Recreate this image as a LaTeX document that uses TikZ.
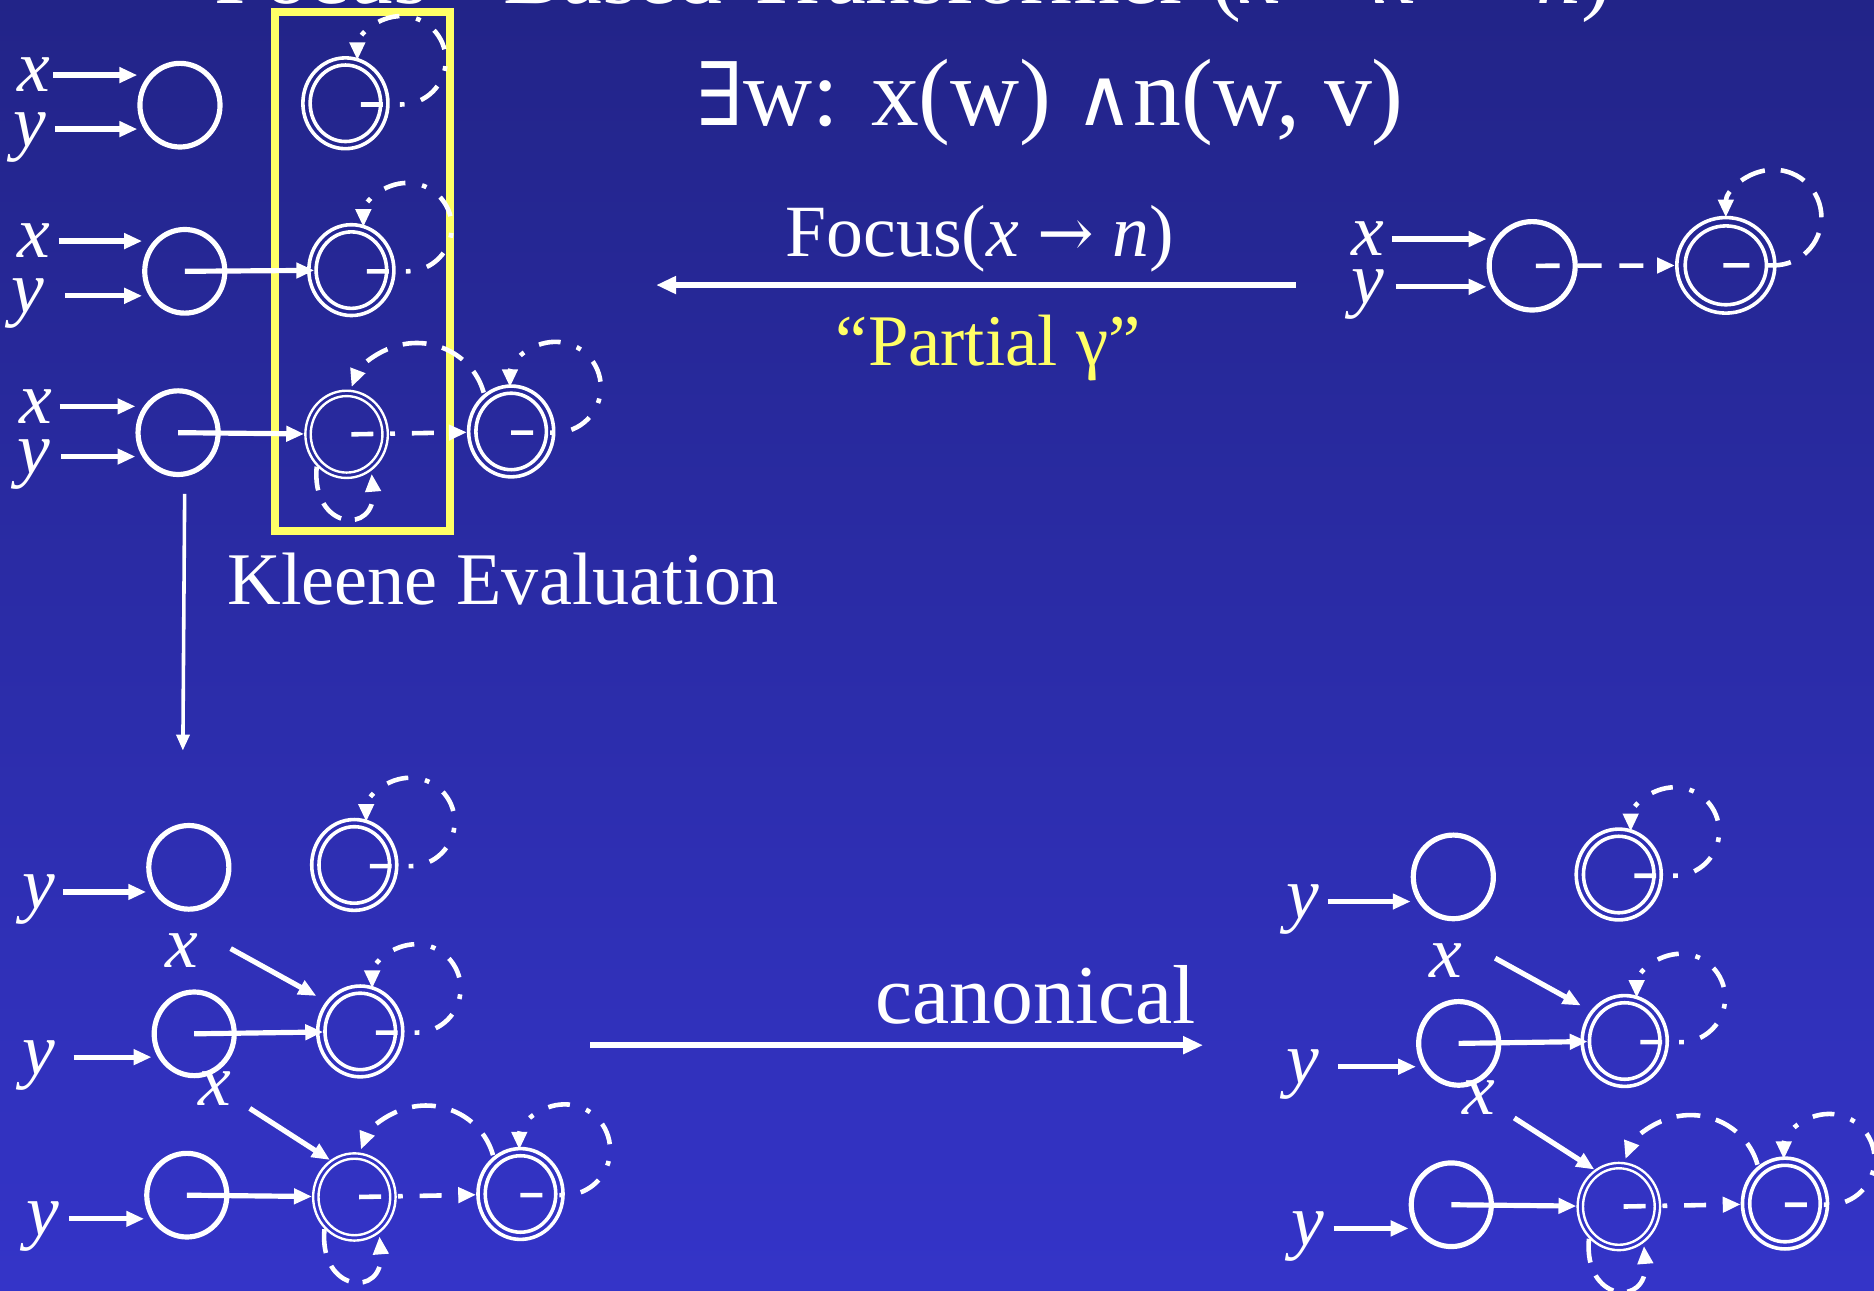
\documentclass[tikz,border=0pt]{standalone}
\usepackage{fontspec}
\setmainfont{Liberation Serif}
\newfontfamily\symfnt{DejaVu Serif}
\usetikzlibrary{arrows.meta,shapes.geometric,calc}
\definecolor{bgtop}{RGB}{34,36,136}
\definecolor{bgbot}{RGB}{52,52,200}
\definecolor{hlyellow}{RGB}{255,255,102}
\tikzset{
  stnode/.style={ellipse,draw=white,line width=2.6pt,minimum width=40.2pt,minimum height=42pt,inner sep=0pt},
  dcout/.style={ellipse,draw=white,line width=1.8pt,minimum width=42.7pt,minimum height=45.6pt,inner sep=0pt},
  dcin/.style={ellipse,draw=white,line width=1.8pt,minimum width=35.4pt,minimum height=38.4pt,inner sep=0pt},
  tcout/.style={ellipse,draw=white,line width=1.2pt,minimum width=41.4pt,minimum height=43.8pt,inner sep=0pt},
  tcin/.style={ellipse,draw=white,line width=1.2pt,minimum width=36pt,minimum height=38.4pt,inner sep=0pt},
  lbl/.style={text=white,font=\itshape\fontsize{37}{40}\selectfont,inner sep=0pt,text depth=0pt},
  arw/.style={draw=white,line width=2.6pt,-{Triangle[length=9pt,width=7.5pt]}},
  ddarw/.style={arw,line width=2.3pt,dash pattern=on 11pt off 8.5pt on 2.4pt off 8.5pt},
  dsarw/.style={arw,line width=2.3pt,dash pattern=on 13pt off 7pt},
  karw/.style={draw=white,line width=1.8pt,-{Triangle[length=8pt,width=6.5pt]}},
  bigarw/.style={draw=white,line width=2.8pt,-{Triangle[length=10pt,width=8.5pt]}},
  txt/.style={text=white,inner sep=0pt},
}
\newcommand\LoopA[1]{\draw[ddarw] ($(#1)+(13,1)$) -- ++(34,0) arc[start angle=90,end angle=-180,radius=37];}
\newcommand\LoopB[1]{\draw[ddarw] ($(#1)+(0,1)$) -- ++(37,0) arc[start angle=90,end angle=-180,radius=38];}
\newcommand\BigArc[1]{\draw[dsarw,dash pattern=on 12pt off 8pt] ($(#1)+(-23,-32.5)$) arc[start angle=-15,end angle=-160,x radius=58,y radius=56];}
\newcommand\UnderLoop[1]{\draw[dsarw,dash pattern=on 12pt off 7pt] ($(#1)+(-25,27)$) .. controls +(-5,53) and +(4,52) .. ($(#1)+(21,33)$);}
\newcommand\BGroup[3]{%
 \node[stnode] (#1ca) at ({158+#2},{725.7+#3}) {};
 \node[dcout] (#1da) at ({296.4+#2},{723.7+#3}) {};
 \node[dcin] (#1dai) at ({296.4+#2},{723.7+#3}) {};
 \node[lbl] (#1ya) at ({32.5+#2},{746.3+#3}) {y};
 \draw[arw] ($(#1ya)+(20.5,0)$) -- (#1ya -| #1ca.west);
 \LoopA{#1da}
 \node[stnode] (#1cb) at ({162.5+#2},{865+#3}) {};
 \node[dcout] (#1db) at ({301.4+#2},{863+#3}) {};
 \node[dcin] (#1dbi) at ({301.4+#2},{863+#3}) {};
 \node[lbl] (#1xb) at ({152+#2},{795.7+#3}) {x};
 \node[lbl] (#1yb) at ({32.5+#2},{884.5+#3}) {y};
 \draw[arw] ($(#1yb)+(29,0)$) -- (#1yb -| #1cb.west);
 \draw[arw] ($(#1xb)+(41,-2)$) -- ($(#1db)+(-36.7,-29.7)$);
 \draw[arw] (#1cb.center) -- (#1dbi);
 \LoopA{#1db}
 \node[stnode] (#1cc) at ({156.3+#2},{1000+#3}) {};
 \node[tcout] (#1dc) at ({296.5+#2},{1001.5+#3}) {};
 \node[tcin] (#1dci) at ({296.5+#2},{1001.5+#3}) {};
 \node[dcout] (#1ec) at ({435.5+#2},{999+#3}) {};
 \node[dcin] (#1eci) at ({435.5+#2},{999+#3}) {};
 \node[lbl] (#1xc) at ({179.4+#2},{910.6+#3}) {x};
 \node[lbl] (#1yc) at ({35.9+#2},{1019.8+#3}) {y};
 \draw[arw] ($(#1yc)+(22,0)$) -- (#1yc -| #1cc.west);
 \draw[arw] ($(#1xc)+(29.6,16.8)$) -- ($(#1dc)+(-20.5,-31)$);
 \draw[arw] (#1cc.center) -- (#1dc);
 \draw[ddarw] ($(#1dc)+(4,0)$) -- (#1ec);
 \LoopB{#1ec}
 \BigArc{#1ec}
 \UnderLoop{#1dc}
}
\begin{document}
\begin{tikzpicture}[x=0.6pt,y=-0.6pt]
\useasboundingbox (0,0) rectangle (1568,1080);
\shade[top color=bgtop,bottom color=bgbot] (0,0) rectangle (1568,1080);
\begin{scope}
\clip (0,0) rectangle (1568,1080);
\node[txt,anchor=base west,font=\fontsize{45}{50}\selectfont] (title) at (179,3) {Focus - Based Transformer (\textit{x} = \textit{x} {\symfnt →} \textit{n})};
\end{scope}
% yellow focus box
\draw[hlyellow,line width=4pt] (230,10) rectangle (376.6,444.5);
% formula
\node[txt,anchor=base,font=\fontsize{48}{52}\selectfont] (formula) at (878.5,104.6) {{\symfnt\fontsize{44}{48}\selectfont ∃}w: x(w) {\symfnt\fontsize{40}{44}\selectfont ∧}n(w, v)};
% row 1
\node[stnode] (c1) at (150.6,88) {};
\node[dcout] (d1) at (289,86.4) {};
\node[dcin] (d1i) at (289,86.4) {};
\node[lbl] (x1) at (28,62.8) {x};
\node[lbl] (y1) at (25,108) {y};
\draw[arw] ($(x1)+(16.5,0)$) -- (x1 -| c1.west);
\draw[arw] ($(y1)+(21,0)$) -- (y1 -| c1.west);
\LoopA{d1}
% row 2
\node[stnode] (c2) at (154.6,227) {};
\node[dcout] (d2) at (294,226) {};
\node[dcin] (d2i) at (294,226) {};
\node[lbl] (x2) at (28,201.7) {x};
\node[lbl] (y2) at (23,247.5) {y};
\draw[arw] ($(x2)+(21,0)$) -- (x2 -| c2.west);
\draw[arw] ($(y2)+(31.6,0)$) -- (y2 -| c2.west);
\draw[arw] (c2.center) -- (d2i);
\LoopA{d2}
% row 3
\node[stnode] (c3) at (149,362) {};
\node[tcout] (d3) at (290,363.4) {};
\node[tcin] (d3i) at (290,363.4) {};
\node[dcout] (e3) at (427.7,361) {};
\node[dcin] (e3i) at (427.7,361) {};
\node[lbl] (x3) at (29.8,340) {x};
\node[lbl] (y3) at (28,382) {y};
\draw[arw] ($(x3)+(20,0)$) -- (x3 -| c3.west);
\draw[arw] ($(y3)+(23,0)$) -- (y3 -| c3.west);
\draw[arw] (c3.center) -- (d3);
\draw[ddarw] ($(d3)+(4,0)$) -- (e3);
\LoopB{e3}
\BigArc{e3}
\UnderLoop{d3}
% Kleene
\coordinate (kEnd) at (153,628);
\draw[karw] ($(c3.south)+(5.5,14)$) -- (kEnd);
\node[txt,anchor=base west,font=\fontsize{37.3}{40}\selectfont] (kleene) at (190,506) {Kleene Evaluation};
% Focus
\node[txt,anchor=base,font=\fontsize{37}{40}\selectfont] (focus) at (820,214.8) {Focus(\textit{x} {\symfnt\fontsize{34}{36}\selectfont →} \textit{n})};
\coordinate (fR) at (1084.5,238.5);
\coordinate (fL) at (549,238.5);
\draw[bigarw] (fR) -- (fL);
\node[txt,text=hlyellow,anchor=base,font=\fontsize{36.5}{40}\selectfont] (partial) at (826.7,305.5) {“Partial γ”};
% top right
\node[stnode,minimum width=43.2pt,minimum height=44.4pt] (cT) at (1282,222.4) {};
\node[dcout,minimum width=49.2pt,minimum height=48pt] (dT) at (1444,222) {};
\node[dcin,minimum width=40.8pt,minimum height=39.6pt] (dTi) at (1444,222) {};
\node[lbl] (xT) at (1144.8,200) {x};
\node[lbl] (yT) at (1144.8,240) {y};
\draw[arw] ($(xT)+(20,0)$) -- (xT -| cT.west);
\draw[arw] ($(yT)+(23,0)$) -- (yT -| cT.west);
\draw[dsarw,dash pattern=on 12pt off 9pt] ($(cT)+(3,0)$) -- (dT);
\draw[dsarw,dash pattern=on 13pt off 8pt] ($(dT)+(-2,0)$) -- ++(42,0) arc[start angle=90,end angle=-180,radius=40];
% bottom groups
\BGroup{L}{0}{0}
\BGroup{R}{1058}{8}
% canonical
\coordinate (cS) at (494,874.5);
\coordinate (cE) at (1006.6,874.5);
\draw[bigarw] (cS) -- (cE);
\node[txt,anchor=base east,font=\fontsize{42}{45}\selectfont] (canon) at (1001,856.3) {canonical};
\end{tikzpicture}
\end{document}
